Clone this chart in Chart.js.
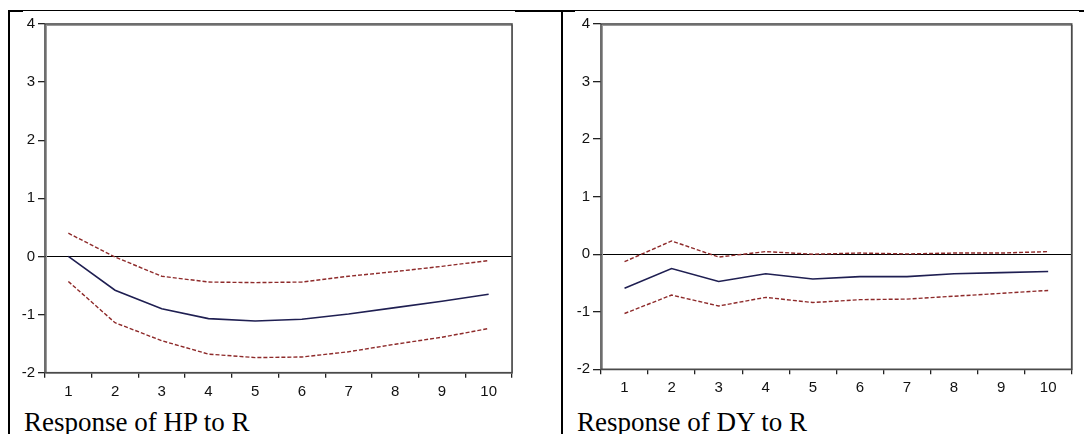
<!DOCTYPE html>
<html>
<head>
<meta charset="utf-8">
<script src="https://cdn.jsdelivr.net/npm/chart.js@4.4.1/dist/chart.umd.min.js"></script>
<style>
  html, body { margin:0; padding:0; background:#fff; width:1084px; height:434px; overflow:hidden; }
  .abs { position:absolute; }
  .line { position:absolute; background:#000; }
  .ttl { position:absolute; font-family:"Liberation Serif", "Times New Roman", serif; font-size:27px; color:#000; white-space:nowrap; line-height:1; }
</style>
</head>
<body>
<div class="line" style="left:8px;top:10px;width:1076px;height:1px;"></div>
<div class="line" style="left:8px;top:10px;width:15px;height:2px;"></div>
<div class="line" style="left:515px;top:10px;width:60px;height:2px;"></div>
<div class="line" style="left:1079px;top:10px;width:5px;height:2px;"></div>
<div class="line" style="left:8px;top:10px;width:2px;height:424px;"></div>
<div class="line" style="left:561px;top:10px;width:2px;height:424px;"></div>

<canvas id="c1" class="abs" style="left:0px;top:0px;"></canvas>
<canvas id="c2" class="abs" style="left:564px;top:0px;"></canvas>

<div class="ttl" style="left:24px;top:409px;">Response of HP to R</div>
<div class="ttl" style="left:577px;top:409px;">Response of DY to R</div>

<script>
// ---- Data ----
const periods = ['1','2','3','4','5','6','7','8','9','10'];
const yTicks = [-2, -1, 0, 1, 2, 3, 4];

const hpResponse = [0.00, -0.58, -0.90, -1.07, -1.11, -1.08, -0.99, -0.88, -0.77, -0.65];
const hpUpper    = [0.40, -0.01, -0.34, -0.44, -0.45, -0.44, -0.34, -0.26, -0.17, -0.07];
const hpLower    = [-0.43, -1.14, -1.45, -1.68, -1.74, -1.73, -1.64, -1.51, -1.39, -1.24];

const dyResponse = [-0.59, -0.25, -0.475, -0.34, -0.43, -0.39, -0.39, -0.34, -0.32, -0.30];
const dyUpper    = [-0.13, 0.23, -0.05, 0.045, 0.00, 0.02, 0.005, 0.02, 0.02, 0.045];
const dyLower    = [-1.03, -0.71, -0.90, -0.75, -0.84, -0.79, -0.78, -0.73, -0.68, -0.63];

const mainColor = '#1f1f52';
const bandColor = '#8e2a2a';

const framePlugin = {
  id: 'frame',
  beforeDatasetsDraw(chart) {
    const {ctx, chartArea:a, scales:{y}} = chart;
    const y0 = y.getPixelForValue(0);
    ctx.save();
    ctx.strokeStyle = '#000';
    ctx.lineWidth = 1;
    ctx.beginPath();
    ctx.moveTo(a.left, Math.round(y0) + 0.5);
    ctx.lineTo(a.right, Math.round(y0) + 0.5);
    ctx.stroke();
    ctx.restore();
  },
  afterDatasetsDraw(chart) {
    const {ctx, chartArea:a} = chart;
    ctx.save();
    ctx.strokeStyle = '#999';
    ctx.lineWidth = 1;
    ctx.strokeRect(a.left + 1.5, a.top + 1.5, a.right - a.left - 1, a.bottom - a.top - 1);
    ctx.strokeStyle = '#4a4a4a';
    ctx.lineWidth = 1.6;
    ctx.strokeRect(a.left, a.top, a.right - a.left, a.bottom - a.top);
    ctx.restore();
  }
};

function makeChart(id, w, h, resp, up, lo, geom) {
  const cv = document.getElementById(id);
  cv.width = w; cv.height = h;
  cv.style.width = w + 'px'; cv.style.height = h + 'px';
  const band = (data) => ({
    data, borderColor: bandColor, borderWidth: 1.4, borderDash: [4, 2],
    pointRadius: 0, tension: 0, fill: false
  });
  const tickFont = { family: "'Liberation Sans', Arial, sans-serif", size: 15 };
  return new Chart(cv, {
    type: 'line',
    data: {
      labels: periods,
      datasets: [
        band(up),
        band(lo),
        { data: resp, borderColor: mainColor, borderWidth: 1.6, pointRadius: 0, tension: 0, fill: false }
      ]
    },
    options: {
      responsive: false,
      animation: false,
      devicePixelRatio: 1,
      events: [],
      layout: { padding: { left: 0, top: geom.top, right: geom.right, bottom: geom.bottom } },
      plugins: { legend: { display: false }, tooltip: { enabled: false }, title: { display: false } },
      scales: {
        x: {
          type: 'category',
          offset: true,
          afterFit(s) { s.height = 30; },
          grid: { offset: true, drawOnChartArea: false, drawTicks: true, tickLength: 5, color: '#222', lineWidth: 1.3 },
          border: { display: false },
          ticks: { color: '#111', font: tickFont, padding: 5, maxRotation: 0, autoSkip: false }
        },
        y: {
          min: yTicks[0], max: yTicks[yTicks.length - 1],
          afterFit(s) { s.width = geom.yw; },
          afterBuildTicks(s) { s.ticks = yTicks.map(v => ({ value: v })); },
          grid: { drawOnChartArea: false, drawTicks: true, tickLength: geom.tl, color: '#222', lineWidth: 1.3 },
          border: { display: false },
          ticks: { color: '#111', font: tickFont, padding: 3, stepSize: 1 }
        }
      }
    },
    plugins: [framePlugin]
  });
}

makeChart('c1', 562, 405, hpResponse, hpUpper, hpLower, { top: 24, right: 50, bottom: 2.3, yw: 45, tl: 7 });
makeChart('c2', 520, 405, dyResponse, dyUpper, dyLower, { top: 24, right: 12.3, bottom: 5.7, yw: 37, tl: 8 });
</script>
</body>
</html>
